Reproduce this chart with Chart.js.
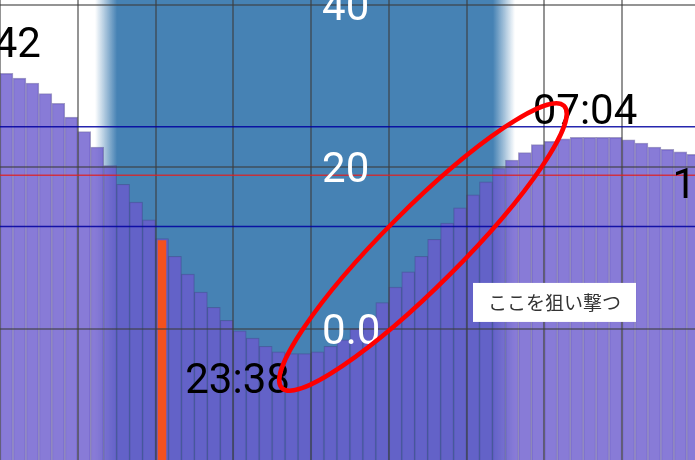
<!DOCTYPE html>
<html>
<head>
<meta charset="utf-8">
<script src="https://cdn.jsdelivr.net/npm/chart.js@4.4.1/dist/chart.umd.min.js"></script>
<style>
    html, body { margin: 0; padding: 0; background: #fff; }
    #wrap { width: 695px; height: 460px; }
</style>
</head>
<body>
<div id="wrap"><canvas id="myChart"></canvas></div>
<script>
// tide level for each 10 minute slot, slot 0 is the left edge
const tide = [31.6, 31.0, 30.4, 29.1, 27.9, 26.2, 24.4, 22.5, 20.2, 17.9,
    15.7, 13.5, 11.2, 9.0, 6.8, 4.6, 2.7, 1.1, -0.2, -1.1,
    -2.1, -2.8, -3.0, -3.0, -2.8, -2.1, -1.3, 0.1, 1.5, 3.3,
    5.2, 7.1, 9.0, 11.1, 13.1, 15.0, 16.6, 18.2, 19.9, 20.9,
    21.8, 22.8, 23.2, 23.5, 23.7, 23.7, 23.7, 23.7, 23.4, 23.0,
    22.5, 22.2, 21.9, 21.6];
const slots = tide.map((v, i) => i);

// current time marker
const nowSlot = 12;
const nowLevel = 11.0;

// hour lines (every 6 slots) and level ticks
const hourSlots = [0, 6, 12, 18, 24, 30, 36, 42, 48];
const yTicks = [0, 20, 40];
const yTickLabels = ['0.0', '20', '40'];

// night band (slots)
const nightStart = 7.33;
const nightEnd = 39.74;
const nightFade = 1.7;

// reference levels
const blueLevels = [25.0, 12.7];
const redLevels = [19.0];

// high / low tide times
const tideTimes = ['42', '23:38', '07:04', '1'];
const tideTimeSlot = [3.16, 18.33, 45.14, 51.9];
const tideTimeLevel = [33.6, -7.86, 25.4, 16.2];

const note = 'ここを狙い撃つ';

const xMin = 0, xMax = 53.63;
const yMin = -16.14, yMax = 40.65;

const overlay = {
    id: 'overlay',
    beforeDraw(chart) {
        const c = chart.ctx, a = chart.chartArea, xs = chart.scales.x;
        const l = xs.getPixelForValue(nightStart);
        const r = xs.getPixelForValue(nightEnd);
        const f = (xs.getPixelForValue(nightStart + nightFade) - l) / (r - l);
        const g = c.createLinearGradient(l, 0, r, 0);
        g.addColorStop(0, 'rgba(70,130,180,0)');
        g.addColorStop(f, 'rgba(70,130,180,1)');
        g.addColorStop(1 - f, 'rgba(70,130,180,1)');
        g.addColorStop(1, 'rgba(70,130,180,0)');
        c.save();
        c.fillStyle = g;
        c.fillRect(l, a.top, r - l, a.bottom - a.top);
        c.restore();
    },
    afterDraw(chart) {
        const c = chart.ctx, a = chart.chartArea;
        const xs = chart.scales.x, ys = chart.scales.y;
        c.save();

        // level lines
        c.lineWidth = 1.5;
        c.strokeStyle = 'rgba(0,0,160,0.85)';
        blueLevels.forEach(v => {
            const y = ys.getPixelForValue(v);
            c.beginPath(); c.moveTo(a.left, y); c.lineTo(a.right, y); c.stroke();
        });
        c.strokeStyle = 'rgba(225,30,30,0.8)';
        redLevels.forEach(v => {
            const y = ys.getPixelForValue(v);
            c.beginPath(); c.moveTo(a.left, y); c.lineTo(a.right, y); c.stroke();
        });

        // y tick labels in the middle
        c.font = '42px Roboto';
        c.fillStyle = '#fff';
        c.textAlign = 'left';
        c.textBaseline = 'alphabetic';
        yTicks.forEach((v, i) => {
            c.fillText(yTickLabels[i], xs.getPixelForValue(24.85), ys.getPixelForValue(v) + 15);
        });

        // tide times
        c.fillStyle = '#000';
        const aligns = ['right', 'center', 'center', 'left'];
        tideTimes.forEach((t, i) => {
            c.textAlign = aligns[i];
            c.fillText(t, xs.getPixelForValue(tideTimeSlot[i]), ys.getPixelForValue(tideTimeLevel[i]));
        });

        // hand drawn ellipse
        c.strokeStyle = '#ff0000';
        c.lineWidth = 4.5;
        c.beginPath();
        c.ellipse(xs.getPixelForValue(32.64), ys.getPixelForValue(10.16), 199.5, 38.5, -Math.PI / 4, 0, Math.PI * 2);
        c.stroke();

        // note box
        const bx = xs.getPixelForValue(36.5), by = ys.getPixelForValue(5.72);
        c.fillStyle = '#fff';
        c.fillRect(bx, by, 163, 39);
        c.fillStyle = '#333';
        c.font = '19px "Noto Sans CJK JP"';
        c.textAlign = 'center';
        c.textBaseline = 'middle';
        c.fillText(note, bx + 81.5, by + 20);

        c.restore();
    }
};

const ctx = document.getElementById('myChart').getContext('2d');

new Chart(ctx, {
    type: 'bar',
    data: {
        datasets: [
            {
                label: 'now',
                data: [{x: nowSlot + 0.5, y: nowLevel}],
                backgroundColor: '#f4511e',
                borderWidth: 0,
                grouped: false,
                barPercentage: 0.66,
                categoryPercentage: 1,
                base: yMin - 5,
                order: 0
            },
            {
                label: 'tide',
                data: slots.map(s => ({x: s + 0.5, y: tide[s]})),
                backgroundColor: 'rgba(106,90,205,0.8)',
                borderColor: 'rgba(72,61,139,0.5)',
                borderWidth: 1,
                grouped: false,
                barPercentage: 1,
                categoryPercentage: 1,
                base: yMin - 5,
                order: 1
            }
        ]
    },
    options: {
        responsive: true,
        maintainAspectRatio: false,
        animation: false,
        layout: { padding: 0 },
        plugins: {
            legend: { display: false },
            tooltip: { enabled: false }
        },
        scales: {
            x: {
                type: 'linear',
                min: xMin,
                max: xMax,
                bounds: 'data',
                offset: false,
                afterBuildTicks: s => { s.ticks = hourSlots.map(v => ({value: v})); },
                ticks: { display: false },
                grid: { offset: false, color: 'rgba(60,60,60,0.55)', lineWidth: 2, drawTicks: false, z: 1 },
                border: { display: false }
            },
            y: {
                min: yMin,
                max: yMax,
                bounds: 'data',
                afterBuildTicks: s => { s.ticks = yTicks.map(v => ({value: v})); },
                ticks: { display: false },
                grid: { color: 'rgba(60,60,60,0.55)', lineWidth: 2, drawTicks: false, z: 1 },
                border: { display: false }
            }
        }
    },
    plugins: [overlay]
});
</script>
</body>
</html>
